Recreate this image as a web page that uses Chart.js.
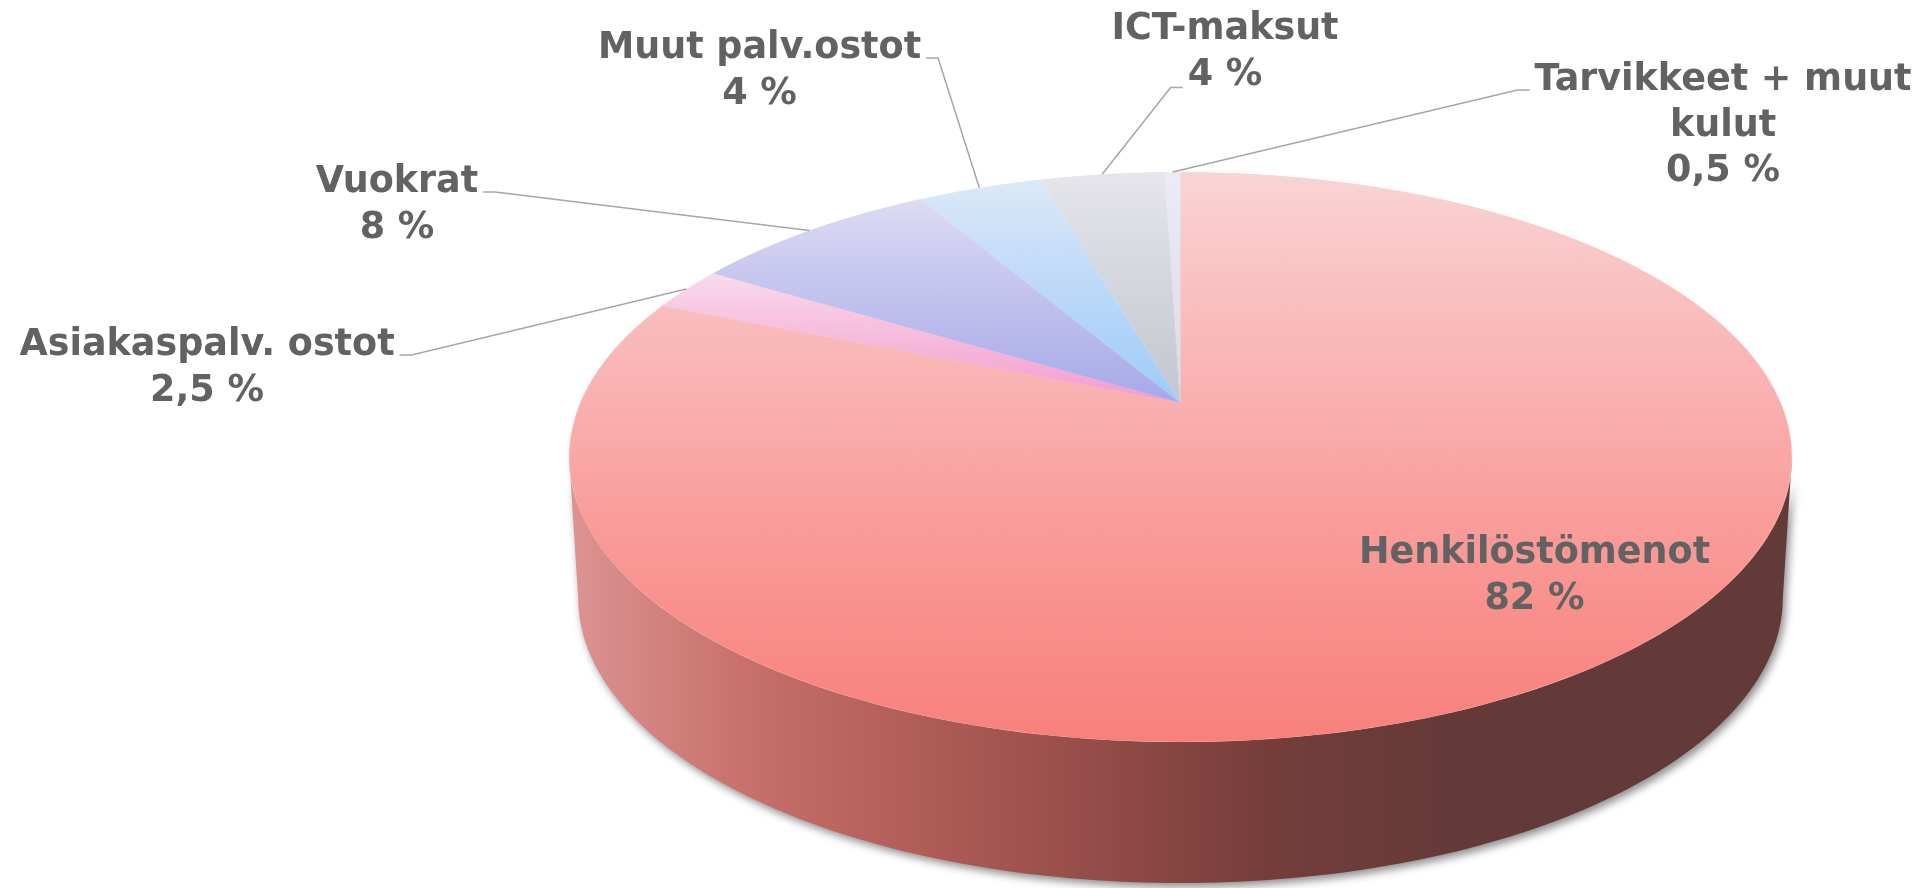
<!DOCTYPE html>
<html lang="fi">
<head>
<meta charset="utf-8">
<title>Kustannusrakenne</title>
<script src="https://cdn.jsdelivr.net/npm/chart.js@4.4.1/dist/chart.umd.min.js"></script>
<style>
  html, body { margin: 0; padding: 0; background: #fff; overflow: hidden; }
  #wrap { width: 1929px; height: 888px; }
</style>
</head>
<body>
<div id="wrap"><canvas id="costPie" width="1929" height="888"></canvas></div>
<script>
// ---- data ----
const categories = ['Henkilöstömenot', 'Asiakaspalv. ostot', 'Vuokrat', 'Muut palv.ostot', 'ICT-maksut', 'Tarvikkeet + muut kulut'];
const shares = [82, 2.5, 8, 4, 4, 0.5];
// how each label is broken on lines in the original
const labelLines = [['Henkilöstömenot'], ['Asiakaspalv. ostot'], ['Vuokrat'], ['Muut palv.ostot'], ['ICT-maksut'], ['Tarvikkeet + muut', 'kulut']];

// ---- colours ----
const topLight = ['#f9d5d5', '#f9dbec', '#dddcf2', '#dde9f8', '#e6e6ec', '#ececf4'];
const topMid   = ['#f9b0af', '#f6bcdd', '#c3c3ee', '#bfdaf8', '#d5d7de', '#e4e4ee'];
const topDeep  = ['#f8807c', '#f39ccf', '#a6a9e8', '#9ecbf8', '#c2c6ce', '#dcdce8'];
const sideShades = [
  ['#dc9492', '#c8706b', '#b05c57', '#944c48', '#743d3a', '#643a38', '#623a38'],
  ['#e0a0c4', '#9a5a80'], ['#a8aad8', '#5a5c8a'], ['#a8c8ea', '#5a7a9a'],
  ['#c0c2c8', '#6a6c72'], ['#d0d0da', '#80808a']
];

// ---- view of the tilted disc (perspective) ----
const R = 600;                 // radius of the flat pie Chart.js lays out
const view = { cx: 1180.5, apexY: 403, rx: 600.4, ry: 274.8, tilt: 0.1895, depth: 141, baseShrink: 0.985 };

const flat = document.createElement('canvas');
flat.width = flat.height = 2 * R + 4;
const fctx = flat.getContext('2d');
const P = R + 2;

function project(a) {
  const x = Math.cos(a), u = Math.sin(a);
  const w = 1 - view.tilt * u;
  return { x: view.cx + view.rx * x / w, y: view.apexY + view.ry * u / w };
}

function pctText(v) {
  return String(v).replace('.', ',') + ' %';
}

// vertical gradient for a slice, spanning from its far rim to its near rim / apex
function sliceFill(c) {
  const i = c.dataIndex;
  const area = c.chart.chartArea;
  if (!area) return topDeep[i];
  const total = shares.reduce((s, v) => s + v, 0);
  let before = 0;
  for (let j = 0; j < i; j++) before += shares[j];
  const a0 = -Math.PI / 2 + before / total * 2 * Math.PI;
  const a1 = a0 + shares[i] / total * 2 * Math.PI;
  let lo = 0, hi = 0;
  for (let k = 0; k <= 200; k++) {
    const s = Math.sin(a0 + (a1 - a0) * k / 200);
    lo = Math.min(lo, s); hi = Math.max(hi, s);
  }
  const cy = (area.top + area.bottom) / 2;
  const g = fctx.createLinearGradient(0, cy + lo * R, 0, cy + hi * R);
  g.addColorStop(0, topLight[i]);
  g.addColorStop(0.5, topMid[i]);
  g.addColorStop(1, topDeep[i]);
  return g;
}

function sideGradient(ctx, i, left, right) {
  const g = ctx.createLinearGradient(left, 0, right, 0);
  const st = sideShades[i];
  if (st.length === 2) {
    g.addColorStop(0, st[0]);
    g.addColorStop(1, st[1]);
  } else {
    // spread all but the last shade over the left 72 %, flat dark after that
    st.forEach((col, k) => g.addColorStop(k === st.length - 1 ? 1 : k / (st.length - 2) * 0.72, col));
  }
  return g;
}

const pieView = {
  id: 'pieView',
  beforeDatasetsDraw(chart) {
    // side wall of the disc, only where it faces the viewer
    const ctx = chart.ctx;
    const meta = chart.getDatasetMeta(0);
    const f0 = Math.asin(view.tilt), f1 = Math.PI - f0;
    const left = project(f1).x, right = project(f0).x;
    ctx.save();
    ctx.shadowColor = 'rgba(0,0,0,0.45)';
    ctx.shadowBlur = 9;
    ctx.shadowOffsetX = 3;
    ctx.shadowOffsetY = 4;
    meta.data.forEach((arc, i) => {
      const s = Math.max(arc.startAngle, f0), e = Math.min(arc.endAngle, f1);
      if (e <= s) return;
      ctx.fillStyle = sideGradient(ctx, i, left, right);
      ctx.beginPath();
      const n = 160;
      for (let k = 0; k <= n; k++) {
        const p = project(s + (e - s) * k / n);
        k ? ctx.lineTo(p.x, p.y) : ctx.moveTo(p.x, p.y);
      }
      for (let k = n; k >= 0; k--) {
        const p = project(s + (e - s) * k / n);
        ctx.lineTo(view.cx + (p.x - view.cx) * view.baseShrink, p.y + view.depth);
      }
      ctx.closePath();
      ctx.fill();
    });
    ctx.restore();
  },
  beforeDatasetDraw(chart, args) {
    // Chart.js draws the flat pie off screen, then it is laid down in perspective
    const meta = args.meta;
    fctx.setTransform(1, 0, 0, 1, 0, 0);
    fctx.clearRect(0, 0, flat.width, flat.height);
    meta.data.forEach(arc => {
      fctx.save();
      fctx.translate(P - arc.x, P - arc.y);
      arc.draw(fctx);
      fctx.restore();
    });
    const ctx = chart.ctx;
    ctx.save();
    ctx.imageSmoothingEnabled = true;
    ctx.imageSmoothingQuality = 'high';
    const top = Math.floor(view.apexY - view.ry / (1 + view.tilt)) - 1;
    const bot = Math.ceil(view.apexY + view.ry / (1 - view.tilt)) + 1;
    for (let ys = top; ys <= bot; ys++) {
      const v = (ys + 0.5 - view.apexY) / view.ry;
      const u = v / (1 + view.tilt * v);
      if (u < -1.01 || u > 1.01) continue;
      const k = view.rx / R / (1 - view.tilt * u);
      const h = R / (view.ry * Math.pow(1 + view.tilt * v, 2));
      let sy = P + u * R - h / 2;
      sy = Math.max(0, Math.min(flat.height - h, sy));
      ctx.drawImage(flat, 0, sy, flat.width, h, view.cx - k * P, ys, k * flat.width, 1);
    }
    ctx.restore();
    return false;
  },
  afterDraw(chart) {
    const ctx = chart.ctx;
    const meta = chart.getDatasetMeta(0);
    const opts = chart.options.plugins.pieView;
    ctx.save();
    ctx.font = opts.font;
    ctx.textAlign = 'center';
    ctx.textBaseline = 'alphabetic';
    meta.data.forEach((arc, i) => {
      const L = opts.places[i];
      const lines = labelLines[i].concat(pctText(shares[i]));
      if (L.hook) {
        const j = L.hookLine || 0;
        const w = ctx.measureText(lines[j]).width;
        const y = L.y + j * opts.lineGap + (L.hookDy || 0);
        const x0 = L.hook === 'right' ? L.x + w / 2 + 5 : L.x - w / 2 - 5;
        const x1 = x0 + (L.hook === 'right' ? 12 : -12);
        const p = project((arc.startAngle + arc.endAngle) / 2);
        ctx.strokeStyle = opts.leaderColor;
        ctx.lineWidth = 1.5;
        ctx.beginPath();
        ctx.moveTo(x0, y);
        ctx.lineTo(x1, y);
        ctx.lineTo(p.x, p.y);
        ctx.stroke();
      }
      ctx.fillStyle = opts.color;
      lines.forEach((t, j) => ctx.fillText(t, L.x, L.y + j * opts.lineGap));
    });
    ctx.restore();
  }
};

new Chart(document.getElementById('costPie'), {
  type: 'pie',
  data: {
    labels: categories,
    datasets: [{
      data: shares,
      backgroundColor: sliceFill,
      borderWidth: 0
    }]
  },
  options: {
    responsive: false,
    animation: false,
    events: [],
    radius: R,
    layout: { padding: 0 },
    plugins: {
      legend: { display: false },
      tooltip: { enabled: false },
      pieView: {
        font: 'bold 36.5px "DejaVu Sans", Verdana, sans-serif',
        color: '#626262',
        leaderColor: '#a6a6a6',
        lineGap: 45.5,
        // label placement: text centre x, first baseline y
        places: [
          { x: 1534.5, y: 563 },
          { x: 207, y: 355, hook: 'right' },
          { x: 397, y: 192, hook: 'right' },
          { x: 759.5, y: 58, hook: 'right' },
          { x: 1225, y: 39, hook: 'left', hookLine: 1, hookDy: 3 },
          { x: 1723, y: 90, hook: 'left' }
        ]
      }
    }
  },
  plugins: [pieView]
});
</script>
</body>
</html>
